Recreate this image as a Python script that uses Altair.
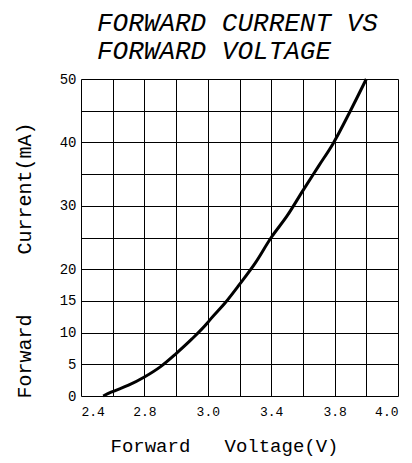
import altair as alt
import pandas as pd

# Curve (forward voltage in V, forward current in mA)
voltage = [2.54, 2.59, 2.70, 2.80, 2.85, 2.90, 2.95, 3.00, 3.02, 3.11, 3.20,
           3.30, 3.40, 3.50, 3.60, 3.70, 3.79, 3.85, 3.90]
current = [0.0, 0.6, 1.7, 3.0, 4.6, 6.7, 9.0, 11.6, 12.2, 14.7, 17.6,
           21.0, 25.0, 28.4, 32.4, 36.3, 39.8, 45.0, 50.0]

# Axis labels as printed on the sheet
x_labels = [2.4, 2.8, 3.0, 3.4, 3.8, 4.0]
x_grid = [2.4, 2.6, 2.8, 2.9, 3.0, 3.2, 3.4, 3.6, 3.8, 3.9, 4.0]
y_labels = [0, 5, 10, 15, 20, 30, 40, 50]
y_grid = [0, 5, 10, 15, 20, 25, 30, 35, 40, 45, 50]

df = pd.DataFrame({"V": voltage, "I": current})

W = 317
H = 317
FONT = "Liberation Mono"
SP = "\u00a0"

x_range = [W * i / (len(x_labels) - 1) for i in range(len(x_labels))]

xlab = "indexof([" + ",".join(str(v) for v in x_labels) + "], datum.value) >= 0 ? format(datum.value, '.1f') : ''"
ylab = "indexof([" + ",".join(str(v) for v in y_labels) + "], datum.value) >= 0 ? datum.value : ''"

chart = alt.Chart(df).mark_line(color="black", strokeWidth=3, interpolate="monotone").encode(
    x=alt.X("V:Q",
            scale=alt.Scale(domain=x_labels, range=x_range),
            axis=alt.Axis(values=x_grid, labelExpr=xlab, title="Forward" + SP * 3 + "Voltage(V)",
                          grid=True, gridColor="black", gridOpacity=1, gridWidth=1,
                          ticks=False, domain=False, labelPadding=9,
                          labelFont=FONT, labelFontSize=13, labelColor="black",
                          labelOverlap=False,
                          titleFont=FONT, titleFontSize=19, titleFontWeight="normal",
                          titleColor="black", titleX=143, titleY=49, titleBaseline="middle")),
    y=alt.Y("I:Q",
            scale=alt.Scale(domain=[0, 50], nice=False, zero=True),
            axis=alt.Axis(values=y_grid, labelExpr=ylab, title="Forward" + SP * 5 + "Current(mA)",
                          grid=True, gridColor="black", gridOpacity=1, gridWidth=1,
                          ticks=False, domain=False, labelPadding=5,
                          labelFont=FONT, labelFontSize=14, labelColor="black",
                          labelOverlap=False,
                          titleFont=FONT, titleFontSize=20, titleFontWeight="normal",
                          titleColor="black", titleAngle=-90, titleX=-57, titleY=181,
                          titleAlign="center", titleBaseline="middle")),
).properties(
    width=W,
    height=H,
    title=alt.TitleParams(text=["FORWARD CURRENT VS", "FORWARD VOLTAGE"],
                          anchor="start", frame="group", dx=16, offset=8,
                          font=FONT, fontSize=26, fontWeight="normal", fontStyle="italic",
                          lineHeight=28, color="black"),
    autosize=alt.AutoSizeParams(type="none"),
    padding={"left": 73, "top": 71, "right": 6, "bottom": 68},
).configure_view(
    stroke="black", strokeWidth=1
).configure(
    background="white"
)

chart.save("out.html", embed_options={"renderer": "svg", "actions": False})
